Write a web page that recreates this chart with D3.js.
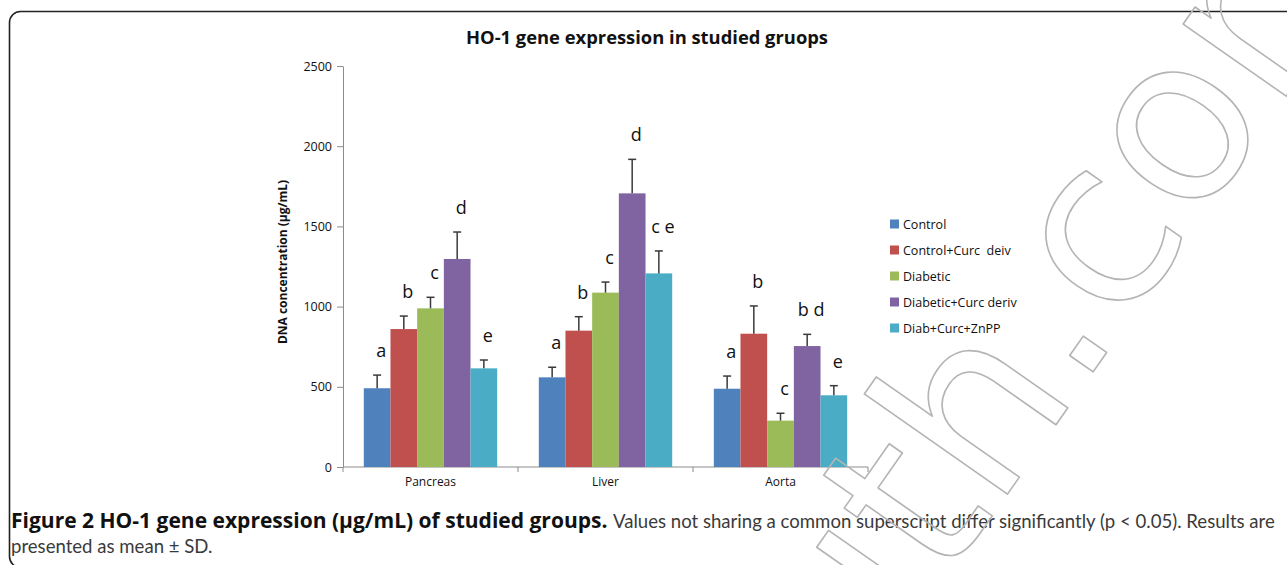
<!DOCTYPE html>
<html><head><meta charset="utf-8">
<script src="https://cdn.jsdelivr.net/npm/d3@7"></script>
<style>
html,body{margin:0;padding:0;background:#fff;}
svg{display:block;}
text{white-space:pre;}
</style></head>
<body><svg id="chart" width="1287" height="565"></svg>
<script>
// ---- data ----
const categories = ["Pancreas", "Liver", "Aorta"];
const seriesNames = ["Control", "Control+Curc  deiv", "Diabetic", "Diabetic+Curc deriv", "Diab+Curc+ZnPP"];
const seriesColors = ["#4F81BD", "#C0504D", "#9BBB59", "#8064A2", "#4BACC6"];
// mean values per series, in category order
const controlVals   = [491, 559, 488];
const controlCurc   = [860, 850, 831];
const diabeticVals  = [989, 1087, 289];
const diabeticCurc  = [1297, 1706, 754];
const diabZnPP      = [615, 1207, 447];
// SD per series
const controlSD     = [82, 63, 79];
const controlCurcSD = [81, 87, 173];
const diabeticSD    = [69, 66, 46];
const diabeticCurcSD= [168, 212, 73];
const diabZnPPSD    = [52, 140, 60];
// significance letters
const controlLbl    = ["a", "a", "a"];
const controlCurcLbl= ["b", "b", "b"];
const diabeticLbl   = ["c", "c", "c"];
const diabCurcLbl   = ["d", "d", "b d"];
const diabZnPPLbl   = ["e", "c e", "e"];
const yTicks = [0, 500, 1000, 1500, 2000, 2500];

const title = "HO-1 gene expression in studied gruops";
const yTitle = "DNA concentration (µg/mL)";
const captionBold = "Figure 2 HO-1 gene expression (µg/mL) of studied groups.";
const captionRest = "Values not sharing a common superscript differ significantly (p < 0.05). Results are";
const captionLine2 = "presented as mean ± SD.";

const values = [controlVals, controlCurc, diabeticVals, diabeticCurc, diabZnPP];
const sds = [controlSD, controlCurcSD, diabeticSD, diabeticCurcSD, diabZnPPSD];
const lbls = [controlLbl, controlCurcLbl, diabeticLbl, diabCurcLbl, diabZnPPLbl];

const rows = [];
categories.forEach((c, ci) => seriesNames.forEach((s, si) => rows.push({
  cat: c, ser: s, si, v: values[si][ci], sd: sds[si][ci], lbl: lbls[si][ci]
})));

// ---- layout ----
const svg = d3.select("#chart");
const plot = {left: 343, right: 868, top: 66, bottom: 467};
const axisColor = "#8c8c8c";
const font = "'Open Sans', 'Liberation Sans', sans-serif";
const capFont = "Lato, 'Open Sans', sans-serif";

// frame
svg.append("rect").attr("x", 9.5).attr("y", 11.5).attr("width", 1320).attr("height", 556)
  .attr("rx", 11).attr("fill", "none").attr("stroke", "#222").attr("stroke-width", 1.6);

const x0 = d3.scaleBand().domain(categories).range([plot.left, plot.right]).paddingInner(0).paddingOuter(0);
const x1 = d3.scaleBand().domain(seriesNames).range([0, x0.bandwidth()]).paddingInner(0).paddingOuter(0.78);
const y = d3.scaleLinear().domain([0, 2500]).range([plot.bottom, plot.top]);
const color = d3.scaleOrdinal().domain(seriesNames).range(seriesColors);

function fitWidth(sel, w) {
  const n = sel.node();
  const cur = n.getComputedTextLength();
  const fs = parseFloat(sel.attr("font-size"));
  const nf = fs * w / cur;
  sel.attr("font-size", nf.toFixed(2));
  return nf;
}

// title
const t = svg.append("text").attr("x", 647).attr("y", 44).attr("text-anchor", "middle")
  .attr("font-family", font).attr("font-weight", "bold").attr("font-size", 17).attr("fill", "#111").text(title);
fitWidth(t, 362);

// y axis
const yAxis = d3.axisLeft(y).tickValues(yTicks).tickSize(6).tickSizeOuter(0).tickPadding(5).tickFormat(d3.format("d"));
const gy = svg.append("g").attr("transform", `translate(${plot.left},0)`).call(yAxis);
gy.select(".domain").attr("stroke", axisColor);
gy.selectAll(".tick line").attr("stroke", axisColor);
gy.selectAll(".tick text").attr("font-family", font).attr("font-size", 12.5).attr("fill", "#111");

// x axis
const gx = svg.append("g").attr("transform", `translate(0,${plot.bottom})`);
gx.append("line").attr("x1", plot.left).attr("x2", plot.right).attr("stroke", axisColor);
const bounds = categories.map(c => x0(c)).concat([plot.right]);
gx.selectAll("line.tk").data(bounds).join("line").attr("class", "tk")
  .attr("x1", d => d).attr("x2", d => d).attr("y1", 0).attr("y2", 5).attr("stroke", axisColor);
gx.selectAll("text").data(categories).join("text")
  .attr("x", d => x0(d) + x0.bandwidth() / 2).attr("y", 19).attr("text-anchor", "middle")
  .attr("font-family", font).attr("font-size", 12).attr("fill", "#111").text(d => d);

// y title
svg.append("text").attr("transform", `translate(287,262) rotate(-90)`).attr("text-anchor", "middle")
  .attr("font-family", font).attr("font-weight", "bold").attr("font-size", 12).attr("fill", "#111").text(yTitle);

// bars
const bx = d => x0(d.cat) + x1(d.ser);
svg.append("g").selectAll("rect").data(rows).join("rect")
  .attr("x", bx).attr("width", x1.bandwidth())
  .attr("y", d => y(d.v)).attr("height", d => y(0) - y(d.v))
  .attr("fill", d => color(d.ser));

// error bars (upper only)
const eg = svg.append("g").attr("stroke", "#3a3a3a").attr("stroke-width", 1.5);
rows.forEach(d => {
  const cx = bx(d) + x1.bandwidth() / 2;
  eg.append("line").attr("x1", cx).attr("x2", cx).attr("y1", y(d.v)).attr("y2", y(d.v + d.sd));
  eg.append("line").attr("x1", cx - 4).attr("x2", cx + 4).attr("y1", y(d.v + d.sd)).attr("y2", y(d.v + d.sd));
});

// letters
svg.append("g").selectAll("text").data(rows).join("text")
  .attr("x", d => bx(d) + x1.bandwidth() / 2 + 4).attr("y", d => y(d.v + d.sd) - 18)
  .attr("text-anchor", "middle").attr("font-family", font).attr("font-size", 18).attr("fill", "#111")
  .text(d => d.lbl);

// legend
const lg = svg.append("g").attr("transform", "translate(890,224)");
seriesNames.forEach((s, i) => {
  const g = lg.append("g").attr("transform", `translate(0,${i * 26})`);
  g.append("rect").attr("x", 0).attr("y", -4.5).attr("width", 9).attr("height", 9).attr("fill", seriesColors[i]);
  g.append("text").attr("x", 13).attr("y", 4.5).attr("font-family", font).attr("font-size", 12.5)
    .attr("fill", "#111").text(s);
});

// caption
const cb = svg.append("text").attr("x", 11).attr("y", 528).attr("font-family", font)
  .attr("font-size", 17).attr("font-weight", "bold").attr("fill", "#111").text(captionBold);
fitWidth(cb, 597);
const cr = svg.append("text").attr("x", 613).attr("y", 528).attr("font-family", capFont)
  .attr("font-size", 17).attr("fill", "#3a3a3a").text(captionRest);
const rs = fitWidth(cr, 662);
svg.append("text").attr("x", 11).attr("y", 553).attr("font-family", capFont).attr("font-size", rs.toFixed(2))
  .attr("fill", "#3a3a3a").text(captionLine2);

// watermark (outlined)
const wmText = "uth.com";
const wm = svg.append("text").attr("font-family", "'DejaVu Sans', sans-serif").attr("font-size", 230)
  .attr("fill", "none").attr("stroke", "#b4b4b4").attr("stroke-width", 1.6).attr("stroke-linejoin", "round").text(wmText);
const dotIdx = wmText.indexOf(".");
const pre = wm.node().getSubStringLength(0, dotIdx);
const dotW = wm.node().getSubStringLength(dotIdx, 1);
wm.attr("x", -(pre + dotW / 2)).attr("y", 0)
  .attr("transform", "translate(1100,362) rotate(-55)");
</script></body></html>
